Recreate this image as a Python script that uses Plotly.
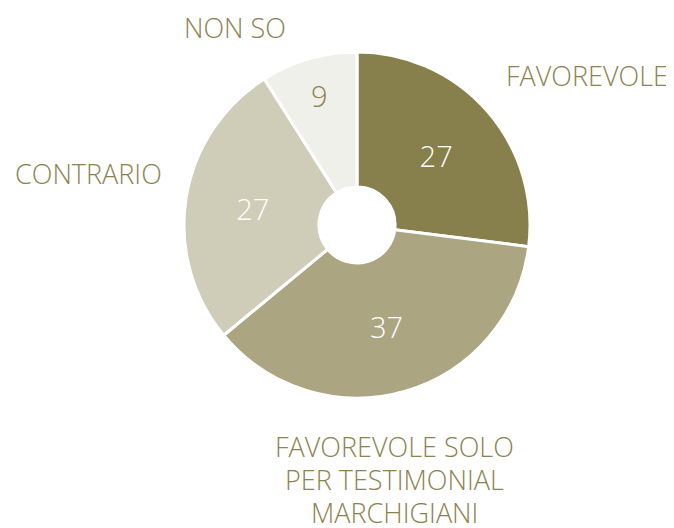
import plotly.graph_objects as go

categories = ["FAVOREVOLE", "FAVOREVOLE SOLO<br>PER TESTIMONIAL<br>MARCHIGIANI", "CONTRARIO", "NON SO"]
values = [27, 37, 27, 9]
colors = ["#877F4C", "#ABA581", "#CFCCB8", "#F0F0EB"]
text_colors = ["#FFFFFF", "#FFFFFF", "#FFFFFF", "#8B844F"]

label_color = "#8B844F"
FONT = "Open Sans"

W, H = 674, 528
cx, cy, r = 349, 217, 173
fig = go.Figure(go.Pie(
    labels=categories,
    values=values,
    sort=False,
    direction="clockwise",
    rotation=0,
    hole=0.22,
    texttemplate=["%{value}", "%{value}", "%{value}", "<br>%{value}"],
    textposition="inside",
    insidetextorientation="horizontal",
    insidetextfont=dict(family=FONT, size=29, color=text_colors, weight=300),
    marker=dict(colors=colors, line=dict(color="#FFFFFF", width=3)),
    domain=dict(x=[(cx - r) / W, (cx + r) / W], y=[1 - (cy + r) / H, 1 - (cy - r) / H]),
    showlegend=False,
))

# Category labels placed outside the slices (one annotation per text line)
label_pos = [
    (579, 67),
    (386, 438),
    (80, 165),
    (227, 20),
]
line_gap = 33
anns = []
for cat, (px, py) in zip(categories, label_pos):
    for i, line in enumerate(cat.split("<br>")):
        anns.append(dict(
            x=px / W, y=1 - (py + i * line_gap) / H, xref="paper", yref="paper",
            text=line, showarrow=False, xanchor="center", yanchor="middle",
            font=dict(family=FONT, size=27, color=label_color, weight=300),
        ))

fig.update_layout(
    width=W, height=H,
    margin=dict(l=0, r=0, t=0, b=0),
    paper_bgcolor="#FFFFFF", plot_bgcolor="#FFFFFF",
    annotations=anns,
)
fig.write_html("out.html")
